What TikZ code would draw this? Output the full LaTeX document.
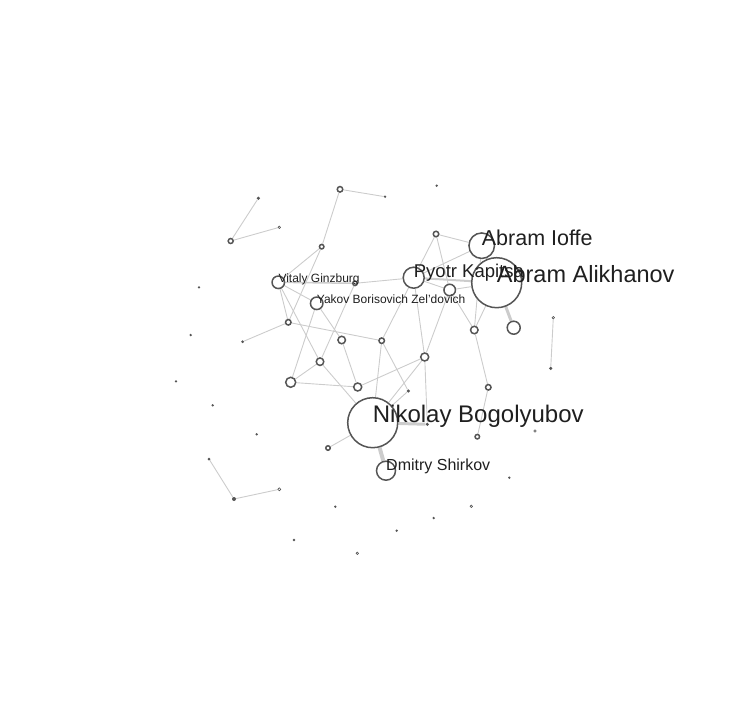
\documentclass[tikz,border=0pt]{standalone}
\usepackage{fontspec}
\setmainfont{Liberation Sans}
\usetikzlibrary{backgrounds}
\definecolor{nodegray}{HTML}{555555}
\definecolor{linkgray}{HTML}{CCCCCC}
\tikzset{
   person/.style={circle, draw=nodegray, fill=white, line width=1.5pt,
      inner sep=0pt, minimum size=#1pt},
   speck/.style={circle, fill=nodegray, inner sep=0pt, minimum size=#1pt},
   hollow/.style={circle, draw=nodegray, fill=white, line width=0.6pt,
      inner sep=0pt, minimum size=#1pt},
   edgeline/.style={draw=linkgray, line width=0.9pt},
   heavyedge/.style={draw=linkgray, line width=#1pt},
   nametag/.style={anchor=base west, inner sep=0pt, text=black!88,
      font=\fontsize{#1pt}{#1pt}\selectfont},
    }

\begin{document}
\begin{tikzpicture}[x=1pt, y=-1pt]
            \useasboundingbox (0,0) rectangle (728,728);
            % people
            \node[person=50] (bogolyubov) at (372.7,422.7) {};
            \node[person=50] (alikhanov) at (496.7,282.7) {};
            \node[person=25.5] (ioffe) at (481.7,245.7) {};
            \node[person=21] (kapitsa) at (413.7,277.7) {};
            \node[person=19] (shirkov) at (386,470.7) {};
            \node[person=12.5] (ginzburg) at (278.3,282.3) {};
            \node[person=12.5] (zeldovich) at (316.7,303.3) {};
            \node[person=11.5] (p1) at (449.7,290) {};
            \node[person=13] (p2) at (513.7,327.7) {};
            \node[person=7.5] (p3) at (474.3,330) {};
            \node[person=5.5] (p4) at (436,234) {};
            \node[person=4.5] (p5) at (355,283.3) {};
            \node[person=5.5] (p6) at (288.3,322.3) {};
            \node[person=7.5] (p7) at (341.7,340) {};
            \node[person=7.5] (p8) at (320,361.7) {};
            \node[person=10] (p9) at (290.7,382.3) {};
            \node[person=8] (p10) at (357.7,387) {};
            \node[person=5.5] (p11) at (381.7,340.7) {};
            \node[person=8] (p12) at (424.7,357) {};
            \node[person=4.5] (p13) at (328,448) {};
            \node[person=5.5] (p14) at (488.3,387.3) {};
            \node[person=4.5] (p15) at (477.3,436.7) {};
            \node[person=5.5] (p16) at (340,189.3) {};
            \node[person=4.5] (p17) at (321.7,246.7) {};
            \node[person=5] (p18) at (230.7,241) {};
            \node[speck=3.4] (d1) at (408.3,391) {};
            \node[speck=3.4] (d2) at (427.3,424.3) {};
            \node[speck=3.5] (d3) at (550.7,368.3) {};
            \node[speck=2.6] (d4) at (385,196.7) {};
            \node[speck=2.6] (d5) at (436.7,185.7) {};
            \node[speck=3.5] (d6) at (258.3,198.3) {};
            \node[speck=2.6] (d7) at (199,287.3) {};
            \node[speck=2.6] (d8) at (190.7,335) {};
            \node[speck=3] (d9) at (242.7,341.7) {};
            \node[speck=2.6] (d10) at (176,381.3) {};
            \node[speck=2.6] (d11) at (212.7,405.3) {};
            \node[speck=2.6] (d12) at (256.7,434.3) {};
            \node[speck=3] (d13) at (209,459) {};
            \node[speck=4] (d14) at (234,499) {};
            \node[speck=2.6] (d15) at (335.3,506.7) {};
            \node[speck=2.6] (d16) at (294,540) {};
            \node[speck=2.6] (d17) at (509.3,477.7) {};
            \node[speck=2.6] (d18) at (433.7,518) {};
            \node[speck=2.6] (d19) at (396.7,530.7) {};
            \node[hollow=2.5] (t1) at (279.3,227.3) {};
            \node[hollow=2.5] (t2) at (535,431) {};
            \node[hollow=2.5] (t3) at (471.3,506.3) {};
            \node[hollow=2.5] (t4) at (357.3,553.3) {};
            \node[hollow=2.5] (t5) at (553.3,317.7) {};
            \node[hollow=3] (t6) at (279.3,489.3) {};
            % links
            \begin{pgfonlayer}{background}
            \draw[edgeline] (d6) -- (p18) -- (t1);
            \draw[edgeline] (d4) -- (p16) -- (p17);
            \draw[edgeline] (p17) -- (ginzburg);
            \draw[edgeline] (p17) -- (p6);
            \draw[heavyedge=1.5] (ginzburg) -- (p5);
            \draw[edgeline] (ginzburg) -- (zeldovich);
            \draw[edgeline] (ginzburg) -- (p6);
            \draw[edgeline] (ginzburg) -- (p8);
            \draw[edgeline] (d9) -- (p6) -- (p11);
            \draw[edgeline] (zeldovich) -- (p9);
            \draw[edgeline] (zeldovich) -- (p7);
            \draw[edgeline] (p5) -- (p8);
            \draw[edgeline] (p5) -- (kapitsa);
            \draw[edgeline] (p9) -- (p8);
            \draw[edgeline] (p9) -- (p10);
            \draw[edgeline] (p7) -- (p10) -- (p12);
            \draw[edgeline] (p8) -- (bogolyubov);
            \draw[edgeline] (p11) -- (kapitsa);
            \draw[edgeline] (p11) -- (bogolyubov);
            \draw[edgeline] (p11) -- (d1) -- (bogolyubov);
            \draw[edgeline] (p12) -- (kapitsa);
            \draw[edgeline] (p12) -- (p1);
            \draw[edgeline] (p12) -- (d2);
            \draw[edgeline] (p12) -- (bogolyubov);
            \draw[heavyedge=3] (bogolyubov) -- (d2);
            \draw[edgeline] (bogolyubov) -- (p13);
            \draw[heavyedge=4] (bogolyubov) -- (shirkov);
            \draw[edgeline] (p4) -- (kapitsa);
            \draw[edgeline] (p4) -- (ioffe);
            \draw[edgeline] (p4) -- (p1);
            \draw[edgeline] (kapitsa) -- (ioffe);
            \draw[heavyedge=2] (kapitsa) -- (alikhanov);
            \draw[edgeline] (kapitsa) -- (p1);
            \draw[edgeline] (p1) -- (alikhanov);
            \draw[edgeline] (p1) -- (p3);
            \draw[heavyedge=1.5] (ioffe) -- (alikhanov);
            \draw[edgeline] (alikhanov) -- (p3);
            \draw[edgeline] (ioffe) -- (p3);
            \draw[heavyedge=3] (alikhanov) -- (p2);
            \draw[edgeline] (p3) -- (p14) -- (p15);
            \draw[edgeline] (t5) -- (d3);
            \draw[edgeline] (d13) -- (d14) -- (t6);
            \end{pgfonlayer}
            % names
            \node[nametag=12] (ginzburgname) at (ginzburg.center) {Vitaly Ginzburg};
            \node[nametag=12] (zeldovichname) at (zeldovich.center) {Yakov Borisovich Zel'dovich};
            \node[nametag=18.5] (kapitsaname) at (kapitsa.center) {Pyotr Kapitsa};
            \node[nametag=21.5] (ioffename) at (ioffe.center) {Abram Ioffe};
            \node[nametag=23.5] (alikhanovname) at (alikhanov.center) {Abram Alikhanov};
            \node[nametag=24] (bogolyubovname) at (bogolyubov.center) {Nikolay Bogolyubov};
            \node[nametag=16] (shirkovname) at (shirkov.center) {Dmitry Shirkov};
        \end{tikzpicture}
\end{document}
